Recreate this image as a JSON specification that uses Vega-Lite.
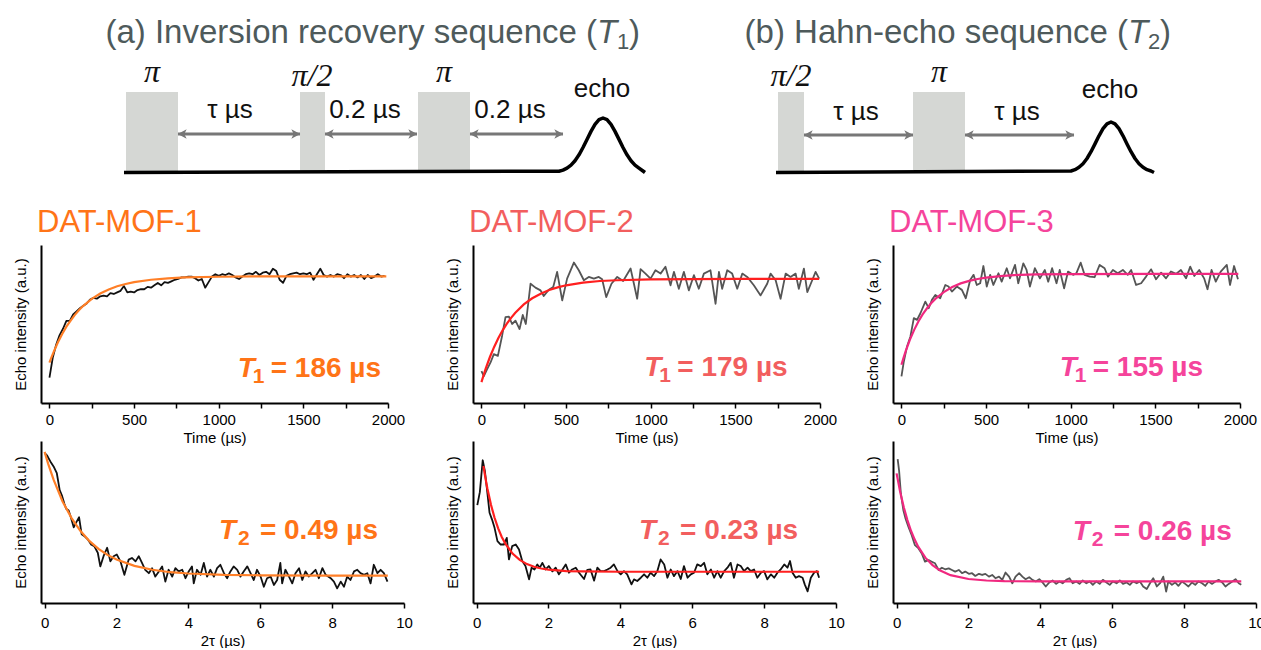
{
"$schema": "https://vega.github.io/schema/vega-lite/v6.json",
"padding": {"left": 12, "top": 0, "right": 0, "bottom": 0},
"background": "white",
"bounds": "flush",
"columns": 5,
"spacing": {"row": 38, "column": 0},
"align": "each",
"config": {
  "view": {"stroke": null},
  "font": "Liberation Sans",
  "axis": {"domainColor": "#000", "domainWidth": 2, "tickColor": "#000", "tickWidth": 1.5, "tickSize": 5, "labelFont": "Liberation Sans", "labelFontSize": 15, "labelColor": "#000", "titleFont": "Liberation Sans", "titleFontSize": 15, "titleFontWeight": "normal", "titleColor": "#000", "grid": false, "labelFlush": false, "labelOverlap": false},
  "axisY": {"ticks": false, "labels": false, "titlePadding": 13},
  "axisX": {"labelPadding": 4, "titlePadding": 3},
  "title": {"anchor": "start", "frame": "group", "fontSize": 31, "fontWeight": "normal", "font": "Liberation Sans", "offset": 6, "dx": -4, "baseline": "alphabetic"}
},
"datasets": {
  "dRect": [{"x":125,"x2":177,"y":92,"y2":172.5},{"x":299,"x2":324,"y":92,"y2":172.5},{"x":417,"x2":469,"y":92,"y2":172.5},{"x":777,"x2":803,"y":92,"y2":172.5},{"x":912,"x2":964,"y":92,"y2":172.5}],
  "dLine": [
    {"g":"a","x":123,"y":172.5},{"g":"a","x":558,"y":171.2},{"g":"a","x":562,"y":170.1},{"g":"a","x":566,"y":168.1},{"g":"a","x":570,"y":165.1},{"g":"a","x":574,"y":160.7},{"g":"a","x":578,"y":154.8},{"g":"a","x":582,"y":147.5},{"g":"a","x":586,"y":139.4},{"g":"a","x":590,"y":131.4},{"g":"a","x":594,"y":124.4},{"g":"a","x":598,"y":119.7},{"g":"a","x":602,"y":118},{"g":"a","x":606,"y":119.7},{"g":"a","x":610,"y":124.4},{"g":"a","x":614,"y":131.4},{"g":"a","x":618,"y":139.4},{"g":"a","x":622,"y":147.5},{"g":"a","x":626,"y":154.8},{"g":"a","x":630,"y":160.7},{"g":"a","x":634,"y":165.1},{"g":"a","x":638,"y":168.1},{"g":"a","x":642,"y":171.0},{"g":"a","x":644,"y":172.5},
    {"g":"b","x":775,"y":172.5},{"g":"b","x":1070,"y":171.0},{"g":"b","x":1074,"y":169.7},{"g":"b","x":1078,"y":167.3},{"g":"b","x":1082,"y":163.7},{"g":"b","x":1086,"y":158.5},{"g":"b","x":1090,"y":151.7},{"g":"b","x":1094,"y":143.9},{"g":"b","x":1098,"y":135.8},{"g":"b","x":1102,"y":128.7},{"g":"b","x":1106,"y":123.8},{"g":"b","x":1110,"y":122},{"g":"b","x":1114,"y":123.8},{"g":"b","x":1118,"y":128.7},{"g":"b","x":1122,"y":135.8},{"g":"b","x":1126,"y":143.9},{"g":"b","x":1130,"y":151.7},{"g":"b","x":1134,"y":158.5},{"g":"b","x":1138,"y":163.7},{"g":"b","x":1142,"y":167.3},{"g":"b","x":1146,"y":169.7},{"g":"b","x":1150,"y":171.0},{"g":"b","x":1153,"y":172.5}
  ],
  "dArrow": [{"x":177,"x2":299,"y":134},{"x":324,"x2":416,"y":134},{"x":469,"x2":562,"y":134},{"x":803,"x2":912,"y":135},{"x":964,"x2":1073,"y":135}],
  "dSans": [{"x":229,"y":118,"t":"τ µs"},{"x":364,"y":118,"t":"0.2 µs"},{"x":509,"y":118,"t":"0.2 µs"},{"x":601,"y":97,"t":"echo"},{"x":855,"y":120,"t":"τ µs"},{"x":1016,"y":120,"t":"τ µs"},{"x":1109,"y":98,"t":"echo"}],
  "dPi": [{"x":151,"y":82,"t":"π"},{"x":311,"y":86,"t":"π/2"},{"x":443,"y":82,"t":"π"},{"x":790,"y":86,"t":"π/2"},{"x":938,"y":82,"t":"π"}],
  "dTitle": [{"x":596,"y":43,"pre":"(a) Inversion recovery sequence (","sub":"1"},{"x":1127,"y":43,"pre":"(b) Hahn-echo sequence (","sub":"2"}],
  "r1": [{"t":0,"v":0.16},{"t":20,"v":0.29},{"t":40,"v":0.37},{"t":60,"v":0.43},{"t":80,"v":0.47},{"t":100,"v":0.52},{"t":120,"v":0.52},{"t":140,"v":0.56},{"t":160,"v":0.58},{"t":180,"v":0.6},{"t":200,"v":0.615},{"t":220,"v":0.63},{"t":240,"v":0.655},{"t":260,"v":0.665},{"t":280,"v":0.66},{"t":300,"v":0.675},{"t":320,"v":0.68},{"t":340,"v":0.675},{"t":360,"v":0.695},{"t":380,"v":0.69},{"t":400,"v":0.7},{"t":420,"v":0.71},{"t":440,"v":0.74},{"t":460,"v":0.7},{"t":480,"v":0.705},{"t":500,"v":0.7},{"t":520,"v":0.715},{"t":540,"v":0.72},{"t":560,"v":0.72},{"t":580,"v":0.735},{"t":600,"v":0.73},{"t":620,"v":0.745},{"t":640,"v":0.76},{"t":660,"v":0.745},{"t":680,"v":0.765},{"t":700,"v":0.76},{"t":720,"v":0.77},{"t":740,"v":0.78},{"t":760,"v":0.785},{"t":780,"v":0.795},{"t":800,"v":0.795},{"t":820,"v":0.8},{"t":840,"v":0.8},{"t":860,"v":0.79},{"t":880,"v":0.775},{"t":900,"v":0.785},{"t":920,"v":0.73},{"t":940,"v":0.765},{"t":960,"v":0.8},{"t":980,"v":0.815},{"t":1000,"v":0.805},{"t":1020,"v":0.815},{"t":1040,"v":0.81},{"t":1060,"v":0.82},{"t":1080,"v":0.81},{"t":1100,"v":0.795},{"t":1120,"v":0.785},{"t":1140,"v":0.8},{"t":1160,"v":0.815},{"t":1180,"v":0.82},{"t":1200,"v":0.815},{"t":1220,"v":0.83},{"t":1240,"v":0.81},{"t":1260,"v":0.825},{"t":1280,"v":0.83},{"t":1300,"v":0.815},{"t":1320,"v":0.85},{"t":1340,"v":0.835},{"t":1360,"v":0.78},{"t":1380,"v":0.76},{"t":1400,"v":0.805},{"t":1420,"v":0.815},{"t":1440,"v":0.82},{"t":1460,"v":0.825},{"t":1480,"v":0.815},{"t":1500,"v":0.82},{"t":1520,"v":0.815},{"t":1540,"v":0.825},{"t":1560,"v":0.78},{"t":1580,"v":0.815},{"t":1600,"v":0.85},{"t":1620,"v":0.81},{"t":1640,"v":0.8},{"t":1660,"v":0.81},{"t":1680,"v":0.8},{"t":1700,"v":0.815},{"t":1720,"v":0.81},{"t":1740,"v":0.79},{"t":1760,"v":0.815},{"t":1780,"v":0.8},{"t":1800,"v":0.81},{"t":1820,"v":0.795},{"t":1840,"v":0.81},{"t":1860,"v":0.785},{"t":1880,"v":0.81},{"t":1900,"v":0.79},{"t":1920,"v":0.8},{"t":1940,"v":0.815},{"t":1960,"v":0.8},{"t":1980,"v":0.805}],
  "f1": [{"t":0,"v":0.255},{"t":10,"v":0.284},{"t":25,"v":0.324},{"t":50,"v":0.384},{"t":75,"v":0.437},{"t":100,"v":0.483},{"t":125,"v":0.522},{"t":150,"v":0.558},{"t":175,"v":0.589},{"t":200,"v":0.615},{"t":250,"v":0.659},{"t":300,"v":0.693},{"t":350,"v":0.719},{"t":400,"v":0.739},{"t":450,"v":0.753},{"t":500,"v":0.765},{"t":600,"v":0.78},{"t":700,"v":0.789},{"t":800,"v":0.795},{"t":1000,"v":0.799},{"t":1200,"v":0.801},{"t":1500,"v":0.802},{"t":1990,"v":0.802}],
  "r2": [{"t":0,"v":0.202},{"t":14,"v":0.17},{"t":33,"v":0.213},{"t":53,"v":0.255},{"t":73,"v":0.309},{"t":97,"v":0.298},{"t":122,"v":0.426},{"t":142,"v":0.543},{"t":162,"v":0.547},{"t":181,"v":0.5},{"t":201,"v":0.521},{"t":225,"v":0.468},{"t":244,"v":0.557},{"t":262,"v":0.5},{"t":290,"v":0.755},{"t":319,"v":0.73},{"t":349,"v":0.713},{"t":368,"v":0.677},{"t":398,"v":0.717},{"t":424,"v":0.734},{"t":447,"v":0.83},{"t":477,"v":0.649},{"t":506,"v":0.787},{"t":546,"v":0.889},{"t":575,"v":0.84},{"t":605,"v":0.777},{"t":634,"v":0.798},{"t":664,"v":0.787},{"t":693,"v":0.798},{"t":713,"v":0.783},{"t":737,"v":0.67},{"t":768,"v":0.755},{"t":802,"v":0.798},{"t":837,"v":0.772},{"t":881,"v":0.851},{"t":920,"v":0.66},{"t":940,"v":0.847},{"t":969,"v":0.819},{"t":999,"v":0.787},{"t":1028,"v":0.84},{"t":1058,"v":0.819},{"t":1087,"v":0.862},{"t":1117,"v":0.745},{"t":1137,"v":0.83},{"t":1166,"v":0.723},{"t":1196,"v":0.83},{"t":1225,"v":0.713},{"t":1255,"v":0.809},{"t":1284,"v":0.723},{"t":1314,"v":0.819},{"t":1353,"v":0.84},{"t":1383,"v":0.628},{"t":1403,"v":0.83},{"t":1422,"v":0.723},{"t":1452,"v":0.84},{"t":1481,"v":0.819},{"t":1511,"v":0.723},{"t":1541,"v":0.819},{"t":1570,"v":0.798},{"t":1609,"v":0.745},{"t":1649,"v":0.681},{"t":1688,"v":0.755},{"t":1708,"v":0.819},{"t":1738,"v":0.777},{"t":1767,"v":0.66},{"t":1797,"v":0.819},{"t":1826,"v":0.798},{"t":1856,"v":0.819},{"t":1875,"v":0.723},{"t":1905,"v":0.851},{"t":1925,"v":0.702},{"t":1954,"v":0.777},{"t":1974,"v":0.83},{"t":1995,"v":0.787}],
  "f2": [{"t":0,"v":0.132},{"t":10,"v":0.167},{"t":25,"v":0.217},{"t":50,"v":0.291},{"t":75,"v":0.355},{"t":100,"v":0.411},{"t":125,"v":0.46},{"t":150,"v":0.502},{"t":175,"v":0.539},{"t":200,"v":0.571},{"t":250,"v":0.624},{"t":300,"v":0.663},{"t":350,"v":0.692},{"t":400,"v":0.715},{"t":450,"v":0.732},{"t":500,"v":0.745},{"t":600,"v":0.762},{"t":700,"v":0.772},{"t":800,"v":0.777},{"t":1000,"v":0.783},{"t":1500,"v":0.785},{"t":1995,"v":0.785}],
  "r3": [{"t":0,"v":0.168},{"t":14,"v":0.263},{"t":33,"v":0.358},{"t":53,"v":0.421},{"t":73,"v":0.537},{"t":92,"v":0.526},{"t":112,"v":0.568},{"t":141,"v":0.642},{"t":161,"v":0.6},{"t":180,"v":0.653},{"t":200,"v":0.684},{"t":229,"v":0.663},{"t":259,"v":0.747},{"t":278,"v":0.737},{"t":298,"v":0.705},{"t":327,"v":0.737},{"t":357,"v":0.716},{"t":380,"v":0.663},{"t":406,"v":0.779},{"t":426,"v":0.811},{"t":445,"v":0.747},{"t":465,"v":0.758},{"t":484,"v":0.867},{"t":504,"v":0.737},{"t":524,"v":0.811},{"t":543,"v":0.747},{"t":573,"v":0.821},{"t":592,"v":0.768},{"t":622,"v":0.853},{"t":641,"v":0.789},{"t":671,"v":0.874},{"t":690,"v":0.758},{"t":720,"v":0.884},{"t":739,"v":0.842},{"t":759,"v":0.737},{"t":788,"v":0.853},{"t":818,"v":0.789},{"t":847,"v":0.842},{"t":867,"v":0.768},{"t":890,"v":0.853},{"t":916,"v":0.758},{"t":935,"v":0.842},{"t":961,"v":0.726},{"t":984,"v":0.832},{"t":1014,"v":0.811},{"t":1033,"v":0.821},{"t":1059,"v":0.888},{"t":1082,"v":0.811},{"t":1112,"v":0.8},{"t":1141,"v":0.796},{"t":1171,"v":0.874},{"t":1200,"v":0.853},{"t":1220,"v":0.8},{"t":1249,"v":0.842},{"t":1278,"v":0.821},{"t":1308,"v":0.842},{"t":1337,"v":0.811},{"t":1357,"v":0.842},{"t":1386,"v":0.747},{"t":1416,"v":0.758},{"t":1445,"v":0.8},{"t":1475,"v":0.846},{"t":1504,"v":0.783},{"t":1534,"v":0.825},{"t":1563,"v":0.789},{"t":1592,"v":0.832},{"t":1622,"v":0.817},{"t":1651,"v":0.842},{"t":1681,"v":0.789},{"t":1706,"v":0.863},{"t":1730,"v":0.804},{"t":1759,"v":0.842},{"t":1788,"v":0.789},{"t":1808,"v":0.72},{"t":1832,"v":0.842},{"t":1857,"v":0.768},{"t":1886,"v":0.832},{"t":1922,"v":0.874},{"t":1941,"v":0.747},{"t":1965,"v":0.867},{"t":1988,"v":0.783}],
  "f3": [{"t":0,"v":0.242},{"t":10,"v":0.278},{"t":25,"v":0.328},{"t":50,"v":0.401},{"t":75,"v":0.463},{"t":100,"v":0.516},{"t":125,"v":0.561},{"t":150,"v":0.598},{"t":175,"v":0.631},{"t":200,"v":0.659},{"t":250,"v":0.702},{"t":300,"v":0.734},{"t":350,"v":0.757},{"t":400,"v":0.773},{"t":450,"v":0.785},{"t":500,"v":0.794},{"t":600,"v":0.805},{"t":700,"v":0.811},{"t":800,"v":0.814},{"t":1000,"v":0.816},{"t":1500,"v":0.817},{"t":1990,"v":0.817}],
  "q1": [{"t":0,"v":0.927},{"t":0.065,"v":0.912},{"t":0.16,"v":0.874},{"t":0.25,"v":0.843},{"t":0.34,"v":0.801},{"t":0.42,"v":0.697},{"t":0.48,"v":0.665},{"t":0.55,"v":0.613},{"t":0.6,"v":0.582},{"t":0.67,"v":0.571},{"t":0.73,"v":0.529},{"t":0.81,"v":0.467},{"t":0.88,"v":0.498},{"t":0.96,"v":0.529},{"t":1.03,"v":0.425},{"t":1.1,"v":0.414},{"t":1.2,"v":0.393},{"t":1.29,"v":0.362},{"t":1.38,"v":0.351},{"t":1.48,"v":0.31},{"t":1.55,"v":0.226},{"t":1.64,"v":0.289},{"t":1.74,"v":0.341},{"t":1.83,"v":0.257},{"t":1.92,"v":0.289},{"t":2.01,"v":0.299},{"t":2.11,"v":0.257},{"t":2.22,"v":0.174},{"t":2.34,"v":0.268},{"t":2.43,"v":0.278},{"t":2.53,"v":0.257},{"t":2.62,"v":0.289},{"t":2.71,"v":0.247},{"t":2.8,"v":0.205},{"t":2.9,"v":0.184},{"t":2.99,"v":0.215},{"t":3.08,"v":0.163},{"t":3.18,"v":0.195},{"t":3.27,"v":0.226},{"t":3.36,"v":0.132},{"t":3.45,"v":0.205},{"t":3.55,"v":0.163},{"t":3.64,"v":0.215},{"t":3.73,"v":0.195},{"t":3.83,"v":0.205},{"t":3.92,"v":0.153},{"t":4.01,"v":0.195},{"t":4.1,"v":0.226},{"t":4.15,"v":0.121},{"t":4.24,"v":0.205},{"t":4.34,"v":0.174},{"t":4.43,"v":0.247},{"t":4.52,"v":0.163},{"t":4.61,"v":0.205},{"t":4.71,"v":0.163},{"t":4.8,"v":0.215},{"t":4.89,"v":0.236},{"t":4.99,"v":0.184},{"t":5.08,"v":0.153},{"t":5.17,"v":0.195},{"t":5.26,"v":0.226},{"t":5.36,"v":0.205},{"t":5.45,"v":0.163},{"t":5.54,"v":0.195},{"t":5.64,"v":0.226},{"t":5.73,"v":0.184},{"t":5.82,"v":0.142},{"t":5.91,"v":0.205},{"t":6.01,"v":0.163},{"t":6.1,"v":0.1},{"t":6.19,"v":0.153},{"t":6.29,"v":0.163},{"t":6.38,"v":0.111},{"t":6.47,"v":0.142},{"t":6.56,"v":0.247},{"t":6.61,"v":0.121},{"t":6.7,"v":0.205},{"t":6.8,"v":0.163},{"t":6.89,"v":0.121},{"t":6.98,"v":0.184},{"t":7.08,"v":0.215},{"t":7.17,"v":0.142},{"t":7.26,"v":0.195},{"t":7.35,"v":0.163},{"t":7.45,"v":0.184},{"t":7.54,"v":0.205},{"t":7.63,"v":0.153},{"t":7.73,"v":0.215},{"t":7.82,"v":0.174},{"t":7.96,"v":0.153},{"t":8.05,"v":0.132},{"t":8.14,"v":0.09},{"t":8.24,"v":0.132},{"t":8.33,"v":0.1},{"t":8.42,"v":0.163},{"t":8.51,"v":0.142},{"t":8.61,"v":0.195},{"t":8.7,"v":0.205},{"t":8.79,"v":0.184},{"t":8.89,"v":0.174},{"t":8.98,"v":0.184},{"t":9.07,"v":0.121},{"t":9.16,"v":0.236},{"t":9.26,"v":0.184},{"t":9.35,"v":0.205},{"t":9.44,"v":0.184},{"t":9.54,"v":0.132}],
  "g1": [{"t":0,"v":0.933},{"t":0.1,"v":0.859},{"t":0.25,"v":0.761},{"t":0.5,"v":0.627},{"t":0.75,"v":0.524},{"t":1,"v":0.444},{"t":1.25,"v":0.382},{"t":1.5,"v":0.334},{"t":1.75,"v":0.297},{"t":2,"v":0.268},{"t":2.5,"v":0.229},{"t":3,"v":0.205},{"t":3.5,"v":0.19},{"t":4,"v":0.182},{"t":5,"v":0.174},{"t":6,"v":0.171},{"t":8,"v":0.169},{"t":9.55,"v":0.169}],
  "q2": [{"t":0.02,"v":0.604},{"t":0.09,"v":0.684},{"t":0.17,"v":0.881},{"t":0.23,"v":0.815},{"t":0.3,"v":0.68},{"t":0.36,"v":0.557},{"t":0.43,"v":0.515},{"t":0.5,"v":0.464},{"t":0.58,"v":0.382},{"t":0.67,"v":0.361},{"t":0.76,"v":0.361},{"t":0.84,"v":0.402},{"t":0.9,"v":0.269},{"t":0.99,"v":0.351},{"t":1.09,"v":0.361},{"t":1.18,"v":0.33},{"t":1.27,"v":0.259},{"t":1.36,"v":0.228},{"t":1.46,"v":0.146},{"t":1.53,"v":0.218},{"t":1.61,"v":0.207},{"t":1.69,"v":0.238},{"t":1.76,"v":0.218},{"t":1.83,"v":0.248},{"t":1.92,"v":0.207},{"t":2.01,"v":0.228},{"t":2.11,"v":0.195},{"t":2.2,"v":0.218},{"t":2.29,"v":0.177},{"t":2.39,"v":0.207},{"t":2.48,"v":0.238},{"t":2.57,"v":0.187},{"t":2.66,"v":0.207},{"t":2.76,"v":0.218},{"t":2.85,"v":0.187},{"t":2.99,"v":0.148},{"t":3.08,"v":0.205},{"t":3.17,"v":0.207},{"t":3.27,"v":0.138},{"t":3.36,"v":0.218},{"t":3.45,"v":0.197},{"t":3.55,"v":0.197},{"t":3.64,"v":0.207},{"t":3.73,"v":0.218},{"t":3.82,"v":0.238},{"t":3.92,"v":0.197},{"t":4.01,"v":0.177},{"t":4.1,"v":0.197},{"t":4.19,"v":0.177},{"t":4.31,"v":0.115},{"t":4.38,"v":0.146},{"t":4.47,"v":0.136},{"t":4.57,"v":0.156},{"t":4.66,"v":0.177},{"t":4.75,"v":0.156},{"t":4.84,"v":0.187},{"t":4.94,"v":0.166},{"t":5.03,"v":0.197},{"t":5.12,"v":0.269},{"t":5.22,"v":0.238},{"t":5.31,"v":0.156},{"t":5.4,"v":0.207},{"t":5.49,"v":0.166},{"t":5.59,"v":0.197},{"t":5.68,"v":0.148},{"t":5.77,"v":0.228},{"t":5.87,"v":0.156},{"t":5.96,"v":0.177},{"t":6.05,"v":0.187},{"t":6.14,"v":0.238},{"t":6.24,"v":0.228},{"t":6.33,"v":0.248},{"t":6.42,"v":0.177},{"t":6.52,"v":0.207},{"t":6.61,"v":0.156},{"t":6.7,"v":0.197},{"t":6.79,"v":0.156},{"t":6.89,"v":0.197},{"t":6.98,"v":0.218},{"t":7.07,"v":0.248},{"t":7.16,"v":0.156},{"t":7.26,"v":0.238},{"t":7.35,"v":0.228},{"t":7.44,"v":0.197},{"t":7.54,"v":0.218},{"t":7.63,"v":0.197},{"t":7.72,"v":0.207},{"t":7.81,"v":0.156},{"t":7.91,"v":0.187},{"t":8,"v":0.197},{"t":8.09,"v":0.146},{"t":8.19,"v":0.177},{"t":8.28,"v":0.156},{"t":8.37,"v":0.187},{"t":8.46,"v":0.207},{"t":8.56,"v":0.238},{"t":8.65,"v":0.218},{"t":8.72,"v":0.259},{"t":8.79,"v":0.187},{"t":8.88,"v":0.156},{"t":8.97,"v":0.166},{"t":9.07,"v":0.156},{"t":9.13,"v":0.115},{"t":9.21,"v":0.072},{"t":9.3,"v":0.156},{"t":9.39,"v":0.187},{"t":9.47,"v":0.197},{"t":9.53,"v":0.156}],
  "g2": [{"t":0.19,"v":0.846},{"t":0.25,"v":0.766},{"t":0.3,"v":0.707},{"t":0.4,"v":0.606},{"t":0.5,"v":0.526},{"t":0.6,"v":0.461},{"t":0.7,"v":0.408},{"t":0.8,"v":0.367},{"t":1,"v":0.305},{"t":1.2,"v":0.266},{"t":1.4,"v":0.24},{"t":1.6,"v":0.224},{"t":1.8,"v":0.213},{"t":2,"v":0.206},{"t":2.5,"v":0.197},{"t":3,"v":0.195},{"t":4,"v":0.193},{"t":9.53,"v":0.193}],
  "q3": [{"t":0.03,"v":0.888},{"t":0.07,"v":0.816},{"t":0.12,"v":0.673},{"t":0.19,"v":0.571},{"t":0.25,"v":0.52},{"t":0.33,"v":0.469},{"t":0.42,"v":0.418},{"t":0.51,"v":0.357},{"t":0.61,"v":0.337},{"t":0.7,"v":0.306},{"t":0.79,"v":0.255},{"t":0.89,"v":0.265},{"t":0.98,"v":0.255},{"t":1.07,"v":0.245},{"t":1.17,"v":0.204},{"t":1.26,"v":0.218},{"t":1.35,"v":0.208},{"t":1.45,"v":0.214},{"t":1.54,"v":0.204},{"t":1.63,"v":0.194},{"t":1.73,"v":0.204},{"t":1.82,"v":0.184},{"t":1.91,"v":0.194},{"t":2.01,"v":0.18},{"t":2.1,"v":0.184},{"t":2.19,"v":0.167},{"t":2.29,"v":0.18},{"t":2.38,"v":0.173},{"t":2.47,"v":0.18},{"t":2.57,"v":0.163},{"t":2.66,"v":0.173},{"t":2.75,"v":0.153},{"t":2.85,"v":0.163},{"t":2.94,"v":0.143},{"t":3.03,"v":0.188},{"t":3.13,"v":0.163},{"t":3.22,"v":0.122},{"t":3.31,"v":0.163},{"t":3.41,"v":0.184},{"t":3.5,"v":0.163},{"t":3.59,"v":0.147},{"t":3.69,"v":0.159},{"t":3.78,"v":0.143},{"t":3.87,"v":0.133},{"t":3.97,"v":0.147},{"t":4.06,"v":0.127},{"t":4.15,"v":0.102},{"t":4.25,"v":0.127},{"t":4.34,"v":0.139},{"t":4.44,"v":0.118},{"t":4.53,"v":0.133},{"t":4.62,"v":0.122},{"t":4.72,"v":0.143},{"t":4.81,"v":0.153},{"t":4.9,"v":0.122},{"t":5,"v":0.133},{"t":5.09,"v":0.118},{"t":5.18,"v":0.139},{"t":5.28,"v":0.122},{"t":5.37,"v":0.133},{"t":5.46,"v":0.112},{"t":5.56,"v":0.133},{"t":5.65,"v":0.118},{"t":5.74,"v":0.143},{"t":5.84,"v":0.127},{"t":5.93,"v":0.112},{"t":6.02,"v":0.133},{"t":6.12,"v":0.122},{"t":6.21,"v":0.139},{"t":6.3,"v":0.118},{"t":6.4,"v":0.127},{"t":6.49,"v":0.112},{"t":6.58,"v":0.133},{"t":6.68,"v":0.122},{"t":6.77,"v":0.133},{"t":6.86,"v":0.102},{"t":6.96,"v":0.086},{"t":7.05,"v":0.122},{"t":7.14,"v":0.153},{"t":7.24,"v":0.102},{"t":7.33,"v":0.122},{"t":7.42,"v":0.163},{"t":7.5,"v":0.071},{"t":7.56,"v":0.133},{"t":7.66,"v":0.112},{"t":7.75,"v":0.127},{"t":7.84,"v":0.106},{"t":7.94,"v":0.133},{"t":8.03,"v":0.118},{"t":8.12,"v":0.102},{"t":8.22,"v":0.127},{"t":8.31,"v":0.112},{"t":8.4,"v":0.133},{"t":8.5,"v":0.122},{"t":8.59,"v":0.106},{"t":8.68,"v":0.133},{"t":8.78,"v":0.118},{"t":8.87,"v":0.133},{"t":8.96,"v":0.143},{"t":9.06,"v":0.127},{"t":9.15,"v":0.102},{"t":9.24,"v":0.118},{"t":9.34,"v":0.133},{"t":9.43,"v":0.147},{"t":9.52,"v":0.122},{"t":9.59,"v":0.112}],
  "g3": [{"t":0,"v":0.8},{"t":0.1,"v":0.685},{"t":0.2,"v":0.591},{"t":0.3,"v":0.512},{"t":0.4,"v":0.446},{"t":0.5,"v":0.393},{"t":0.6,"v":0.348},{"t":0.8,"v":0.28},{"t":1,"v":0.234},{"t":1.2,"v":0.202},{"t":1.5,"v":0.172},{"t":2,"v":0.148},{"t":2.5,"v":0.139},{"t":3,"v":0.135},{"t":4,"v":0.133},{"t":9.59,"v":0.133}],
  "n1": [{"t":1112,"v":0.163,"sub":"1","rest":"= 186 µs"}],
  "n2": [{"t":962,"v":0.17,"sub":"1","rest":"= 179 µs"}],
  "n3": [{"t":935,"v":0.168,"sub":"1","rest":"= 155 µs"}],
  "m1": [{"t":4.85,"v":0.393,"sub":"2","rest":"= 0.49 µs"}],
  "m2": [{"t":4.52,"v":0.394,"sub":"2","rest":"= 0.23 µs"}],
  "m3": [{"t":4.9,"v":0.388,"sub":"2","rest":"= 0.26 µs"}],
  "blank": []
},
"concat": [
  {"width": 363, "height": 207,
   "layer": [
    {"data": {"name": "dRect"}, "mark": {"type": "rect", "color": "#D5D7D4"},
     "encoding": {"x": {"field": "x", "type": "quantitative", "scale": {"domain": [40, 1261], "range": [0, 1221], "nice": false, "zero": false}, "axis": null}, "x2": {"field": "x2"},
                  "y": {"field": "y", "type": "quantitative", "scale": {"domain": [0, 207], "nice": false, "zero": false, "reverse": true}, "axis": null}, "y2": {"field": "y2"}}},
    {"data": {"name": "dLine"}, "mark": {"type": "line", "color": "#000", "strokeWidth": 3.5, "strokeJoin": "round"},
     "encoding": {"x": {"field": "x", "type": "quantitative"}, "y": {"field": "y", "type": "quantitative"}, "detail": {"field": "g"}}},
    {"data": {"name": "dArrow"}, "mark": {"type": "rule", "color": "#777", "strokeWidth": 3},
     "encoding": {"x": {"field": "x", "type": "quantitative"}, "x2": {"field": "x2"}, "y": {"field": "y", "type": "quantitative"}}},
    {"data": {"name": "dArrow"}, "mark": {"type": "point", "shape": "M-1,0L0.7,-0.9L0.25,0L0.7,0.9Z", "filled": true, "color": "#777", "opacity": 1, "size": 110, "xOffset": 5},
     "encoding": {"x": {"field": "x", "type": "quantitative"}, "y": {"field": "y", "type": "quantitative"}}},
    {"data": {"name": "dArrow"}, "mark": {"type": "point", "shape": "M1,0L-0.7,-0.9L-0.25,0L-0.7,0.9Z", "filled": true, "color": "#777", "opacity": 1, "size": 110, "xOffset": -5},
     "encoding": {"x": {"field": "x2", "type": "quantitative"}, "y": {"field": "y", "type": "quantitative"}}},
    {"data": {"name": "dSans"}, "mark": {"type": "text", "font": "Liberation Sans", "fontSize": 26, "color": "#111", "align": "center", "baseline": "alphabetic"},
     "encoding": {"x": {"field": "x", "type": "quantitative"}, "y": {"field": "y", "type": "quantitative"}, "text": {"field": "t"}}},
    {"data": {"name": "dPi"}, "mark": {"type": "text", "font": "Liberation Serif", "fontStyle": "italic", "fontSize": 32, "color": "#111", "align": "center", "baseline": "alphabetic"},
     "encoding": {"x": {"field": "x", "type": "quantitative"}, "y": {"field": "y", "type": "quantitative"}, "text": {"field": "t"}}},
    {"data": {"name": "dTitle"}, "mark": {"type": "text", "font": "Liberation Sans", "fontSize": 33, "color": "#4E5A5B", "align": "right", "baseline": "alphabetic"},
     "encoding": {"x": {"field": "x", "type": "quantitative"}, "y": {"field": "y", "type": "quantitative"}, "text": {"field": "pre"}}},
    {"data": {"name": "dTitle"}, "mark": {"type": "text", "font": "Liberation Sans", "fontSize": 33, "fontStyle": "italic", "color": "#4E5A5B", "align": "left", "baseline": "alphabetic"},
     "encoding": {"x": {"field": "x", "type": "quantitative"}, "y": {"field": "y", "type": "quantitative"}, "text": {"value": "T"}}},
    {"data": {"name": "dTitle"}, "mark": {"type": "text", "font": "Liberation Sans", "fontSize": 22, "color": "#4E5A5B", "align": "left", "baseline": "alphabetic", "dx": 20, "dy": 6},
     "encoding": {"x": {"field": "x", "type": "quantitative"}, "y": {"field": "y", "type": "quantitative"}, "text": {"field": "sub"}}},
    {"data": {"name": "dTitle"}, "mark": {"type": "text", "font": "Liberation Sans", "fontSize": 33, "color": "#4E5A5B", "align": "left", "baseline": "alphabetic", "dx": 32},
     "encoding": {"x": {"field": "x", "type": "quantitative"}, "y": {"field": "y", "type": "quantitative"}, "text": {"value": ")"}}}
   ]
  },
  {"width": 1, "height": 1, "data": {"name": "blank"}, "mark": "point"},
  {"width": 1, "height": 1, "data": {"name": "blank"}, "mark": "point"},
  {"width": 1, "height": 1, "data": {"name": "blank"}, "mark": "point"},
  {"width": 1, "height": 1, "data": {"name": "blank"}, "mark": "point"},
  {"width": 347, "height": 158,
   "title": {"text": "DAT-MOF-1", "color": "#FF7417"},
   "layer": [
    {"data": {"name": "r1"}, "mark": {"type": "line", "color": "#111", "strokeWidth": 1.8, "strokeJoin": "round"},
     "encoding": {"x": {"field": "t", "type": "quantitative", "scale": {"domain": [-50, 2000], "nice": false, "zero": false}, "axis": {"title": "Time (µs)", "format": "d", "values": [0,250,500,750,1000,1250,1500,1750,2000], "labelExpr": "datum.value % 500 === 0 ? datum.label : ''"}},
                  "y": {"field": "v", "type": "quantitative", "scale": {"domain": [0, 1], "nice": false, "zero": false}, "axis": {"title": "Echo intensity (a.u.)"}}}},
    {"data": {"name": "f1"}, "mark": {"type": "line", "color": "#FF7F27", "strokeWidth": 2.2},
     "encoding": {"x": {"field": "t", "type": "quantitative"}, "y": {"field": "v", "type": "quantitative"}}},
    {"data": {"name": "n1"}, "mark": {"type": "text", "font": "Liberation Sans", "fontSize": 28, "fontWeight": "bold", "fontStyle": "italic", "color": "#FF7417", "align": "left", "baseline": "alphabetic"},
     "encoding": {"x": {"field": "t", "type": "quantitative"}, "y": {"field": "v", "type": "quantitative"}, "text": {"value": "T"}}},
    {"data": {"name": "n1"}, "mark": {"type": "text", "font": "Liberation Sans", "fontSize": 21, "fontWeight": "bold", "color": "#FF7417", "align": "left", "baseline": "alphabetic", "dx": 15, "dy": 6},
     "encoding": {"x": {"field": "t", "type": "quantitative"}, "y": {"field": "v", "type": "quantitative"}, "text": {"field": "sub"}}},
    {"data": {"name": "n1"}, "mark": {"type": "text", "font": "Liberation Sans", "fontSize": 28, "fontWeight": "bold", "color": "#FF7417", "align": "left", "baseline": "alphabetic", "dx": 33},
     "encoding": {"x": {"field": "t", "type": "quantitative"}, "y": {"field": "v", "type": "quantitative"}, "text": {"field": "rest"}}}
   ]},
  {"width": 69, "height": 1, "data": {"name": "blank"}, "mark": "point"},
  {"width": 347, "height": 158,
   "title": {"text": "DAT-MOF-2", "color": "#F25E5E"},
   "layer": [
    {"data": {"name": "r2"}, "mark": {"type": "line", "color": "#555", "strokeWidth": 1.8, "strokeJoin": "round"},
     "encoding": {"x": {"field": "t", "type": "quantitative", "scale": {"domain": [-50, 2000], "nice": false, "zero": false}, "axis": {"title": "Time (µs)", "format": "d", "values": [0,250,500,750,1000,1250,1500,1750,2000], "labelExpr": "datum.value % 500 === 0 ? datum.label : ''"}},
                  "y": {"field": "v", "type": "quantitative", "scale": {"domain": [0, 1], "nice": false, "zero": false}, "axis": {"title": "Echo intensity (a.u.)"}}}},
    {"data": {"name": "f2"}, "mark": {"type": "line", "color": "#FF1F1F", "strokeWidth": 2.2},
     "encoding": {"x": {"field": "t", "type": "quantitative"}, "y": {"field": "v", "type": "quantitative"}}},
    {"data": {"name": "n2"}, "mark": {"type": "text", "font": "Liberation Sans", "fontSize": 28, "fontWeight": "bold", "fontStyle": "italic", "color": "#F25E5E", "align": "left", "baseline": "alphabetic"},
     "encoding": {"x": {"field": "t", "type": "quantitative"}, "y": {"field": "v", "type": "quantitative"}, "text": {"value": "T"}}},
    {"data": {"name": "n2"}, "mark": {"type": "text", "font": "Liberation Sans", "fontSize": 21, "fontWeight": "bold", "color": "#F25E5E", "align": "left", "baseline": "alphabetic", "dx": 15, "dy": 6},
     "encoding": {"x": {"field": "t", "type": "quantitative"}, "y": {"field": "v", "type": "quantitative"}, "text": {"field": "sub"}}},
    {"data": {"name": "n2"}, "mark": {"type": "text", "font": "Liberation Sans", "fontSize": 28, "fontWeight": "bold", "color": "#F25E5E", "align": "left", "baseline": "alphabetic", "dx": 33},
     "encoding": {"x": {"field": "t", "type": "quantitative"}, "y": {"field": "v", "type": "quantitative"}, "text": {"field": "rest"}}}
   ]},
  {"width": 57, "height": 1, "data": {"name": "blank"}, "mark": "point"},
  {"width": 347, "height": 158,
   "title": {"text": "DAT-MOF-3", "color": "#F5449B"},
   "layer": [
    {"data": {"name": "r3"}, "mark": {"type": "line", "color": "#555", "strokeWidth": 1.8, "strokeJoin": "round"},
     "encoding": {"x": {"field": "t", "type": "quantitative", "scale": {"domain": [-50, 2000], "nice": false, "zero": false}, "axis": {"title": "Time (µs)", "format": "d", "values": [0,250,500,750,1000,1250,1500,1750,2000], "labelExpr": "datum.value % 500 === 0 ? datum.label : ''"}},
                  "y": {"field": "v", "type": "quantitative", "scale": {"domain": [0, 1], "nice": false, "zero": false}, "axis": {"title": "Echo intensity (a.u.)"}}}},
    {"data": {"name": "f3"}, "mark": {"type": "line", "color": "#F0287F", "strokeWidth": 2.2},
     "encoding": {"x": {"field": "t", "type": "quantitative"}, "y": {"field": "v", "type": "quantitative"}}},
    {"data": {"name": "n3"}, "mark": {"type": "text", "font": "Liberation Sans", "fontSize": 28, "fontWeight": "bold", "fontStyle": "italic", "color": "#F5449B", "align": "left", "baseline": "alphabetic"},
     "encoding": {"x": {"field": "t", "type": "quantitative"}, "y": {"field": "v", "type": "quantitative"}, "text": {"value": "T"}}},
    {"data": {"name": "n3"}, "mark": {"type": "text", "font": "Liberation Sans", "fontSize": 21, "fontWeight": "bold", "color": "#F5449B", "align": "left", "baseline": "alphabetic", "dx": 15, "dy": 6},
     "encoding": {"x": {"field": "t", "type": "quantitative"}, "y": {"field": "v", "type": "quantitative"}, "text": {"field": "sub"}}},
    {"data": {"name": "n3"}, "mark": {"type": "text", "font": "Liberation Sans", "fontSize": 28, "fontWeight": "bold", "color": "#F5449B", "align": "left", "baseline": "alphabetic", "dx": 33},
     "encoding": {"x": {"field": "t", "type": "quantitative"}, "y": {"field": "v", "type": "quantitative"}, "text": {"field": "rest"}}}
   ]},
  {"width": 363, "height": 162,
   "layer": [
    {"data": {"name": "q1"}, "mark": {"type": "line", "color": "#111", "strokeWidth": 1.8, "strokeJoin": "round"},
     "encoding": {"x": {"field": "t", "type": "quantitative", "scale": {"domain": [-0.1, 10], "nice": false, "zero": false}, "axis": {"title": "2τ (µs)", "format": "d", "values": [0,1,2,3,4,5,6,7,8,9,10], "labelExpr": "datum.value % 2 === 0 ? datum.label : ''", "labelPadding": 7}},
                  "y": {"field": "v", "type": "quantitative", "scale": {"domain": [0, 1], "nice": false, "zero": false}, "axis": {"title": "Echo intensity (a.u.)"}}}},
    {"data": {"name": "g1"}, "mark": {"type": "line", "color": "#FF7F27", "strokeWidth": 2.2},
     "encoding": {"x": {"field": "t", "type": "quantitative"}, "y": {"field": "v", "type": "quantitative"}}},
    {"data": {"name": "m1"}, "mark": {"type": "text", "font": "Liberation Sans", "fontSize": 28, "fontWeight": "bold", "fontStyle": "italic", "color": "#FF7417", "align": "left", "baseline": "alphabetic"},
     "encoding": {"x": {"field": "t", "type": "quantitative"}, "y": {"field": "v", "type": "quantitative"}, "text": {"value": "T"}}},
    {"data": {"name": "m1"}, "mark": {"type": "text", "font": "Liberation Sans", "fontSize": 21, "fontWeight": "bold", "color": "#FF7417", "align": "left", "baseline": "alphabetic", "dx": 19, "dy": 6},
     "encoding": {"x": {"field": "t", "type": "quantitative"}, "y": {"field": "v", "type": "quantitative"}, "text": {"field": "sub"}}},
    {"data": {"name": "m1"}, "mark": {"type": "text", "font": "Liberation Sans", "fontSize": 28, "fontWeight": "bold", "color": "#FF7417", "align": "left", "baseline": "alphabetic", "dx": 41},
     "encoding": {"x": {"field": "t", "type": "quantitative"}, "y": {"field": "v", "type": "quantitative"}, "text": {"field": "rest"}}}
   ]},
  {"width": 69, "height": 1, "data": {"name": "blank"}, "mark": "point"},
  {"width": 363, "height": 162,
   "layer": [
    {"data": {"name": "q2"}, "mark": {"type": "line", "color": "#111", "strokeWidth": 1.8, "strokeJoin": "round"},
     "encoding": {"x": {"field": "t", "type": "quantitative", "scale": {"domain": [-0.1, 10], "nice": false, "zero": false}, "axis": {"title": "2τ (µs)", "format": "d", "values": [0,1,2,3,4,5,6,7,8,9,10], "labelExpr": "datum.value % 2 === 0 ? datum.label : ''", "labelPadding": 7}},
                  "y": {"field": "v", "type": "quantitative", "scale": {"domain": [0, 1], "nice": false, "zero": false}, "axis": {"title": "Echo intensity (a.u.)"}}}},
    {"data": {"name": "g2"}, "mark": {"type": "line", "color": "#FF1F1F", "strokeWidth": 2.2},
     "encoding": {"x": {"field": "t", "type": "quantitative"}, "y": {"field": "v", "type": "quantitative"}}},
    {"data": {"name": "m2"}, "mark": {"type": "text", "font": "Liberation Sans", "fontSize": 28, "fontWeight": "bold", "fontStyle": "italic", "color": "#F25E5E", "align": "left", "baseline": "alphabetic"},
     "encoding": {"x": {"field": "t", "type": "quantitative"}, "y": {"field": "v", "type": "quantitative"}, "text": {"value": "T"}}},
    {"data": {"name": "m2"}, "mark": {"type": "text", "font": "Liberation Sans", "fontSize": 21, "fontWeight": "bold", "color": "#F25E5E", "align": "left", "baseline": "alphabetic", "dx": 19, "dy": 6},
     "encoding": {"x": {"field": "t", "type": "quantitative"}, "y": {"field": "v", "type": "quantitative"}, "text": {"field": "sub"}}},
    {"data": {"name": "m2"}, "mark": {"type": "text", "font": "Liberation Sans", "fontSize": 28, "fontWeight": "bold", "color": "#F25E5E", "align": "left", "baseline": "alphabetic", "dx": 41},
     "encoding": {"x": {"field": "t", "type": "quantitative"}, "y": {"field": "v", "type": "quantitative"}, "text": {"field": "rest"}}}
   ]},
  {"width": 57, "height": 1, "data": {"name": "blank"}, "mark": "point"},
  {"width": 363, "height": 162,
   "layer": [
    {"data": {"name": "q3"}, "mark": {"type": "line", "color": "#555", "strokeWidth": 1.8, "strokeJoin": "round"},
     "encoding": {"x": {"field": "t", "type": "quantitative", "scale": {"domain": [-0.1, 10], "nice": false, "zero": false}, "axis": {"title": "2τ (µs)", "format": "d", "values": [0,1,2,3,4,5,6,7,8,9,10], "labelExpr": "datum.value % 2 === 0 ? datum.label : ''", "labelPadding": 7}},
                  "y": {"field": "v", "type": "quantitative", "scale": {"domain": [0, 1], "nice": false, "zero": false}, "axis": {"title": "Echo intensity (a.u.)"}}}},
    {"data": {"name": "g3"}, "mark": {"type": "line", "color": "#F0287F", "strokeWidth": 2.2},
     "encoding": {"x": {"field": "t", "type": "quantitative"}, "y": {"field": "v", "type": "quantitative"}}},
    {"data": {"name": "m3"}, "mark": {"type": "text", "font": "Liberation Sans", "fontSize": 28, "fontWeight": "bold", "fontStyle": "italic", "color": "#F5449B", "align": "left", "baseline": "alphabetic"},
     "encoding": {"x": {"field": "t", "type": "quantitative"}, "y": {"field": "v", "type": "quantitative"}, "text": {"value": "T"}}},
    {"data": {"name": "m3"}, "mark": {"type": "text", "font": "Liberation Sans", "fontSize": 21, "fontWeight": "bold", "color": "#F5449B", "align": "left", "baseline": "alphabetic", "dx": 19, "dy": 6},
     "encoding": {"x": {"field": "t", "type": "quantitative"}, "y": {"field": "v", "type": "quantitative"}, "text": {"field": "sub"}}},
    {"data": {"name": "m3"}, "mark": {"type": "text", "font": "Liberation Sans", "fontSize": 28, "fontWeight": "bold", "color": "#F5449B", "align": "left", "baseline": "alphabetic", "dx": 41},
     "encoding": {"x": {"field": "t", "type": "quantitative"}, "y": {"field": "v", "type": "quantitative"}, "text": {"field": "rest"}}}
   ]}
]
}
